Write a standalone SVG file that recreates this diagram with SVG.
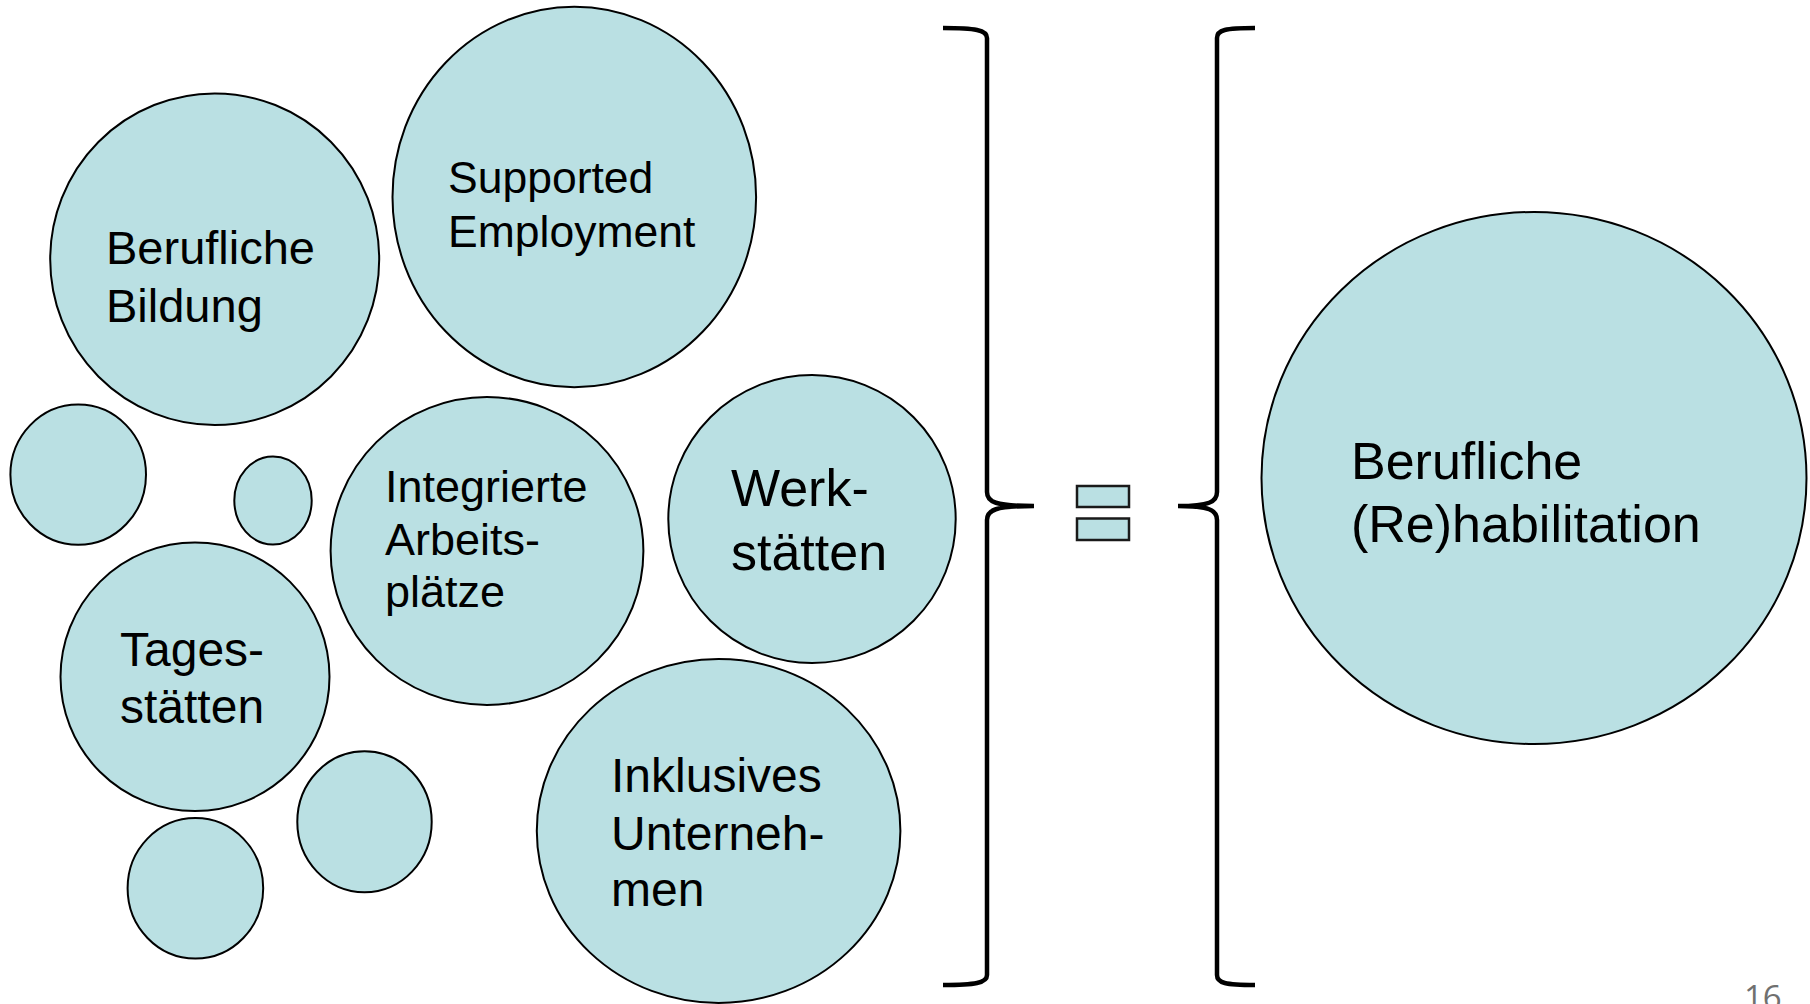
<svg xmlns="http://www.w3.org/2000/svg" width="1810" height="1004" viewBox="0 0 1810 1004">
<style>
.c{fill:#BAE0E3;stroke:#000;stroke-width:2}
.t{font-family:"Liberation Sans",Arial,sans-serif;fill:#000}
.br{fill:none;stroke:#000;stroke-width:4.5;stroke-linecap:butt}
.eq{fill:#BAE0E3;stroke:#1a1a1a;stroke-width:2.5}
</style>
<rect width="1810" height="1004" fill="#fff"/>
<g id="berufliche-bildung"><ellipse class="c" cx="214.7" cy="259.2" rx="164.5" ry="165.8"/>
<text class="t" font-size="47" x="106" y="264">Berufliche</text><text class="t" font-size="47" x="106" y="322">Bildung</text></g>
<g id="supported-employment"><ellipse class="c" cx="574.3" cy="197" rx="181.8" ry="190.3"/>
<text class="t" font-size="44.5" x="448" y="193">Supported</text><text class="t" font-size="44.5" x="448" y="247">Employment</text></g>
<g id="small-1"><ellipse class="c" cx="78.2" cy="474.7" rx="67.8" ry="70.1"/></g>
<g id="small-2"><ellipse class="c" cx="273" cy="500.5" rx="38.7" ry="44"/></g>
<g id="integrierte"><ellipse class="c" cx="487" cy="551" rx="156.4" ry="154"/>
<text class="t" font-size="45" x="385" y="502">Integrierte</text><text class="t" font-size="45" x="385" y="555">Arbeits-</text><text class="t" font-size="45" x="385" y="607">plätze</text></g>
<g id="werkstaetten"><ellipse class="c" cx="812" cy="519" rx="143.7" ry="144"/>
<text class="t" font-size="52" x="731" y="506">Werk-</text><text class="t" font-size="52" x="731" y="570">stätten</text></g>
<g id="tagesstaetten"><ellipse class="c" cx="195" cy="676.8" rx="134.5" ry="134.3"/>
<text class="t" font-size="48" x="120" y="666">Tages-</text><text class="t" font-size="48" x="120" y="723">stätten</text></g>
<g id="small-3"><ellipse class="c" cx="364.5" cy="821.8" rx="67.2" ry="70.5"/></g>
<g id="small-4"><ellipse class="c" cx="195.4" cy="888.3" rx="67.8" ry="70.2"/></g>
<g id="inklusives"><ellipse class="c" cx="718.6" cy="831" rx="181.8" ry="172"/>
<text class="t" font-size="48" x="611" y="792">Inklusives</text><text class="t" font-size="48" x="611" y="850">Unterneh-</text><text class="t" font-size="48" x="611" y="906">men</text></g>
<g id="connectors">
<path class="br" d="M943 28 C975 28 987 30 987 38 L987 492 C987 502 995 506 1034 506 C995 506 987 510 987 520 L987 975 C987 983 975 985 943 985"/>
<path class="br" d="M1255 28 C1225 28 1217 30 1217 38 L1217 492 C1217 502 1209 506 1178 506 C1209 506 1217 510 1217 520 L1217 975 C1217 983 1225 985 1255 985"/>
<rect class="eq" x="1077" y="486" width="52" height="21"/>
<rect class="eq" x="1077" y="518.5" width="52" height="21.5"/>
</g>
<g id="rehabilitation"><ellipse class="c" cx="1534" cy="478" rx="272.5" ry="266"/>
<text class="t" font-size="52" x="1351" y="479">Berufliche</text><text class="t" font-size="52" x="1351" y="542">(Re)habilitation</text></g>
<text x="1744" y="1009" font-family="'Open Sans','DejaVu Sans',sans-serif" font-size="33" fill="#707070">16</text>
</svg>
